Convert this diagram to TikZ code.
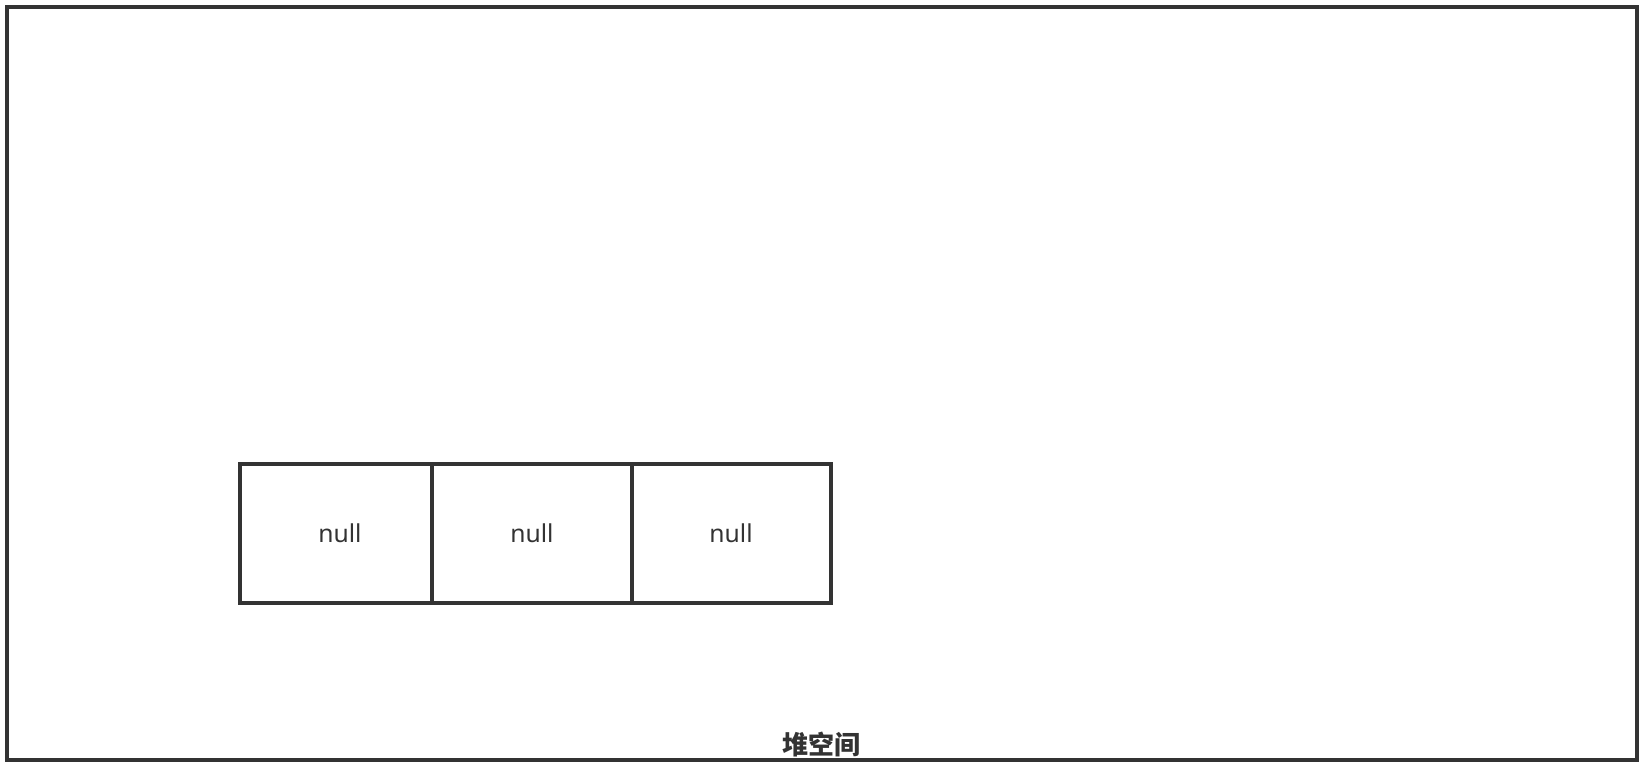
\documentclass[tikz,border=0pt]{standalone}
\usepackage{fontspec}
\setmainfont{Noto Sans}
\newfontfamily\cjk{Noto Sans CJK SC}
\definecolor{ink}{HTML}{333333}
\begin{document}
\begin{tikzpicture}[x=0.75pt,y=-0.75pt,
  heap/.style={draw=ink,line width=3pt},
  cell/.style={draw=ink,line width=3pt,minimum width=0pt},
  celltext/.style={text=ink,font=\fontsize{18.5pt}{22pt}\selectfont,inner sep=0pt},
  heaplabel/.style={text=ink,font=\cjk\bfseries\fontsize{19.5pt}{22pt}\selectfont,inner sep=0pt}]
\useasboundingbox (0,0) rectangle (1643,771);
\draw[heap] (7,7) rectangle (1637,760);
\draw[cell] (240,463.5) rectangle (432,602.5);
\draw[cell] (432,463.5) rectangle (631.5,602.5);
\draw[cell] (631.5,463.5) rectangle (831,602.5);
\node[celltext] (n1) at (340,533) {null};
\node[celltext] (n2) at (532,533) {null};
\node[celltext] (n3) at (731,533) {null};
\node[heaplabel] (lbl) at (821,744) {堆空间};
\end{tikzpicture}
\end{document}
